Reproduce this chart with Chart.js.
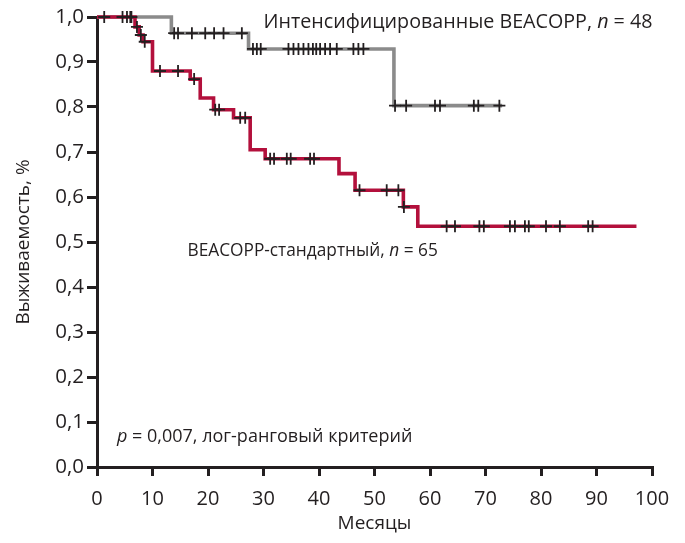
<!DOCTYPE html>
<html>
<head>
<meta charset="utf-8">
<script src="https://cdn.jsdelivr.net/npm/chart.js@4.4.1/dist/chart.umd.min.js"></script>
<style>
  html, body { margin: 0; padding: 0; background: #fff; }
  #wrap { width: 685px; height: 543px; position: relative; }
</style>
</head>
<body>
<div id="wrap"><canvas id="km"></canvas></div>
<script>
// Кривые выживаемости Каплана-Мейера: ступени (время, доля) и цензурированные случаи
const intensTimes = [0, 13.4, 27.3, 53.5, 73]
const intensSurv = [1, 0.964, 0.929, 0.803, 0.803]
const intensCensored = [1.3, 4.6, 5.4, 6.2, 13.9, 14.6, 17.1, 19.5, 21.1, 22.8, 26.1,
    28.1, 28.8, 29.5, 34.5, 35.4, 36.3, 37.2, 38.1, 38.9, 39.5, 40.2, 41.1, 42.0, 43.2,
    46.2, 47.1, 48.0, 53.7, 55.7, 60.9, 61.8, 67.9, 68.7, 72.5]

const standardTimes = [0, 6.85, 7.6, 8.3, 10.0, 16.8, 18.6, 21.0, 24.6, 27.6, 30.3, 43.6, 46.5, 55.2, 57.8, 97.2]
const standardSurv = [1, 0.978, 0.96, 0.945, 0.88, 0.862, 0.82, 0.794, 0.776, 0.705, 0.685, 0.652, 0.615, 0.578, 0.535, 0.535]
const standardCensored = [6.0, 7.2, 7.9, 8.6, 11.35, 14.6, 17.5, 21.3, 22.0, 25.8, 26.7,
    31.2, 31.9, 34.2, 34.9, 38.4, 39.1, 47.3, 52.2, 54.3, 55.3, 63.0, 64.5, 68.9, 69.7,
    74.4, 75.3, 77.1, 77.8, 80.9, 83.4, 88.5, 89.3]

const xTickLabels = ['0', '10', '20', '30', '40', '50', '60', '70', '80', '90', '100']
const yTickLabels = ['0,0', '0,1', '0,2', '0,3', '0,4', '0,5', '0,6', '0,7', '0,8', '0,9', '1,0']

const FONT = '"Open Sans", "Noto Sans", sans-serif'
const INK = '#231f20'
const GRAY = '#8b8b8b'
const RED = '#b3103c'

// Значение ступенчатой функции в момент t
const survAt = (times, surv, t) => {
    let s = surv[0]
    times.forEach((v, i) => { if (v <= t) s = surv[i] })
    return s
}
const steps = (times, surv) => times.map((t, i) => ({x: t, y: surv[i]}))
const marks = (times, surv, cens) => cens.map(t => ({x: t, y: survAt(times, surv, t)}))

// Подписи на поле графика: [x, y, куски текста], курсив для n и p
const notes = [
    {x: 30.0, y: 0.989, size: 19.7, runs: [['Интенсифицированные BEACOPP, ', false], ['n', true], [' = 48', false]]},
    {x: 16.3, y: 0.48, size: 17.3, runs: [['BEACOPP-стандартный, ', false], ['n', true], [' = 65', false]]},
    {x: 3.6, y: 0.066, size: 18, runs: [['p', true], [' = 0,007, лог-ранговый критерий', false]]}
]

const notesPlugin = {
    id: 'notes',
    afterDatasetsDraw(chart) {
        const ctx = chart.ctx
        const {x, y} = chart.scales
        ctx.save()
        ctx.fillStyle = INK
        ctx.textBaseline = 'middle'
        notes.forEach(n => {
            let px = x.getPixelForValue(n.x)
            const py = y.getPixelForValue(n.y)
            n.runs.forEach(([text, italic]) => {
                ctx.font = `${italic ? 'italic ' : ''}${n.size}px ${FONT}`
                ctx.fillText(text, px, py)
                px += ctx.measureText(text).width
            })
        })
        ctx.restore()
    }
}

const crossSet = (label, data, order) => ({
    label,
    data,
    showLine: false,
    pointStyle: 'cross',
    pointRadius: 6,
    pointBorderWidth: 1.8,
    pointBorderColor: INK,
    clip: false,
    order
})

const stepSet = (label, data, color, order) => ({
    label,
    data,
    stepped: 'before',
    borderColor: color,
    borderWidth: 3.6,
    pointRadius: 0,
    fill: false,
    clip: false,
    order
})

const canvas = document.getElementById('km')
new Chart(canvas, {
    type: 'line',
    data: {
        datasets: [
            crossSet('censored-standard', marks(standardTimes, standardSurv, standardCensored), 0),
            crossSet('censored-intens', marks(intensTimes, intensSurv, intensCensored), 1),
            stepSet('BEACOPP-стандартный', steps(standardTimes, standardSurv), RED, 2),
            stepSet('Интенсифицированные BEACOPP', steps(intensTimes, intensSurv), GRAY, 3)
        ]
    },
    options: {
        responsive: true,
        maintainAspectRatio: false,
        animation: false,
        events: [],
        layout: {padding: {top: 17, right: 33, left: 0, bottom: 0}},
        plugins: {
            legend: {display: false},
            tooltip: {enabled: false}
        },
        scales: {
            x: {
                type: 'linear',
                min: 0,
                max: 100,
                afterFit: s => { s.height = 76 },
                ticks: {
                    stepSize: 10,
                    color: INK,
                    padding: 11,
                    font: {family: FONT, size: 20},
                    callback: (v, i) => xTickLabels[i]
                },
                grid: {drawOnChartArea: false, color: INK, lineWidth: 3, tickLength: 9},
                border: {display: true, color: INK, width: 3},
                title: {
                    display: true,
                    text: 'Месяцы',
                    color: INK,
                    font: {family: FONT, size: 19},
                    padding: {top: 4, bottom: 8}
                }
            },
            y: {
                min: 0,
                max: 1,
                afterFit: s => { s.width = 97 },
                ticks: {
                    stepSize: 0.1,
                    color: INK,
                    padding: 3,
                    font: {family: FONT, size: 20.5},
                    callback: (v, i) => yTickLabels[i]
                },
                grid: {drawOnChartArea: false, color: INK, lineWidth: 3, tickLength: 10},
                border: {display: true, color: INK, width: 3},
                title: {
                    display: true,
                    text: 'Выживаемость, %',
                    color: INK,
                    font: {family: FONT, size: 19},
                    padding: {top: 12}
                }
            }
        }
    },
    plugins: [notesPlugin]
})
</script>
</body>
</html>
